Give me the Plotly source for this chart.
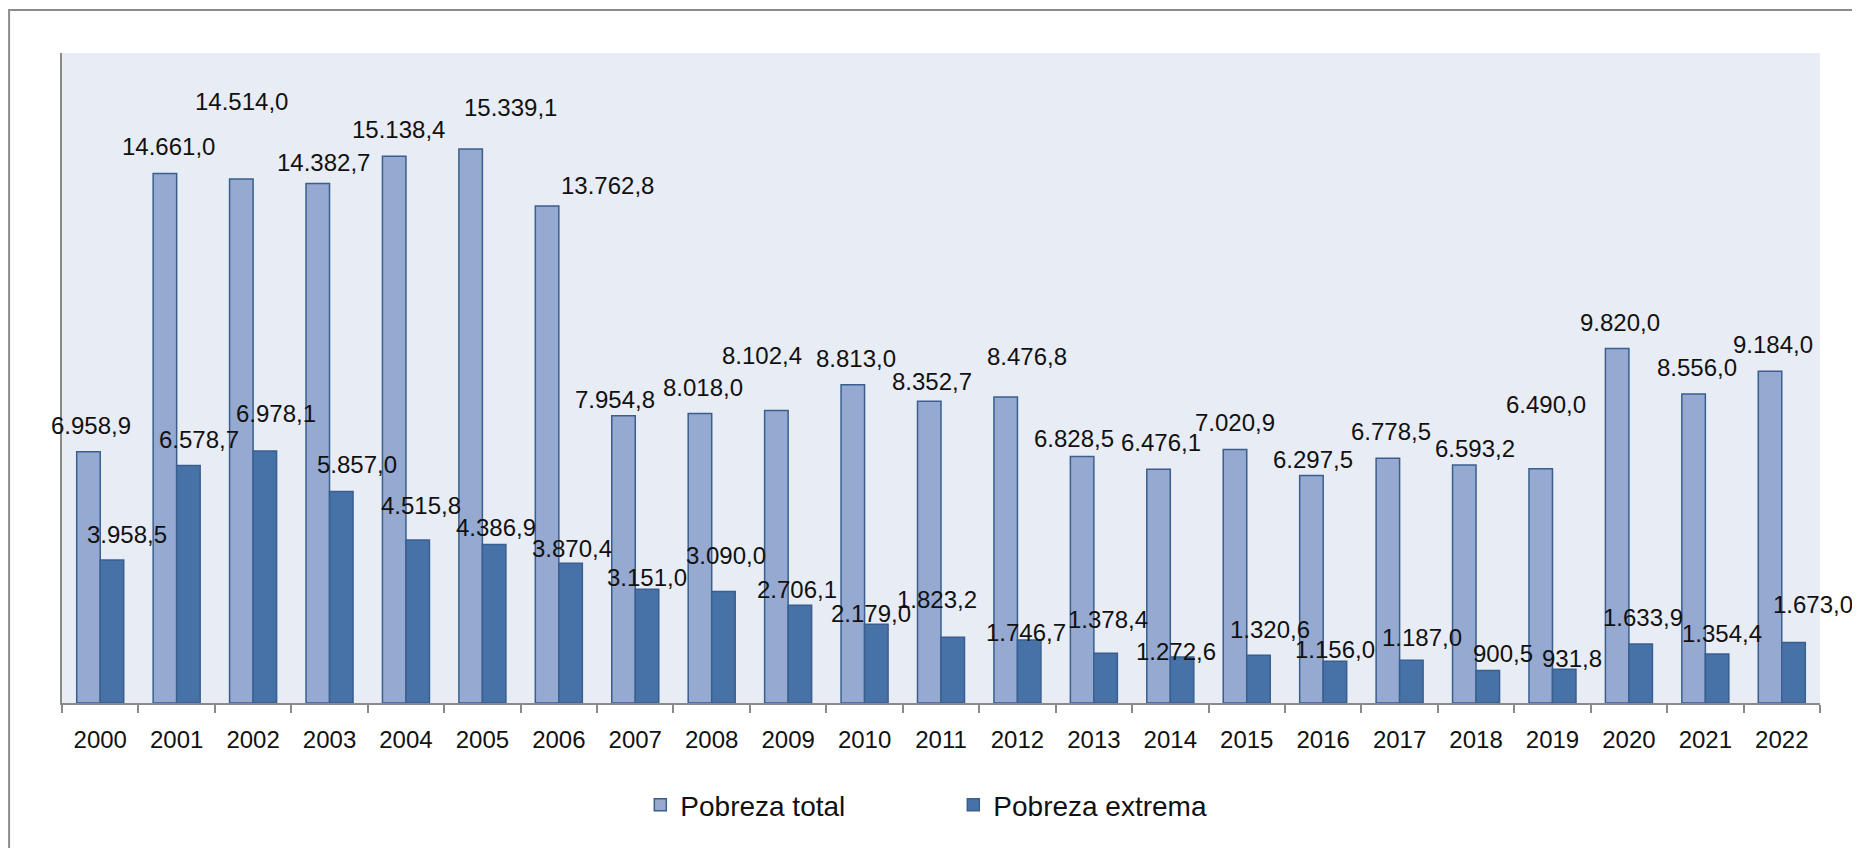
"""
Pobreza total y extrema, 2000-2022 — grouped bar chart with hand-placed value labels.
"""
import plotly.graph_objects as go

years = [str(y) for y in range(2000, 2023)]

pobreza_total = [
    6958.9, 14661.0, 14514.0, 14382.7, 15138.4, 15339.1, 13762.8, 7954.8,
    8018.0, 8102.4, 8813.0, 8352.7, 8476.8, 6828.5, 6476.1, 7020.9,
    6297.5, 6778.5, 6593.2, 6490.0, 9820.0, 8556.0, 9184.0,
]
pobreza_extrema = [
    3958.5, 6578.7, 6978.1, 5857.0, 4515.8, 4386.9, 3870.4, 3151.0,
    3090.0, 2706.1, 2179.0, 1823.2, 1746.7, 1378.4, 1272.6, 1320.6,
    1156.0, 1187.0, 900.5, 931.8, 1633.9, 1354.4, 1673.0,
]

# label nudges (px) — the source chart has its labels dragged around by hand
_TOTAL_LIFT  = [26, 27, 77, 21, 27, 42, 21, 16, 26, 55, 26, 20, 40, 18, 27, 27, 16, 27, 16, 64, 26, 27, 27]
_TOTAL_DX    = [3, 4, 0, 6, 4, 40, 60, -9, 3, -14, 3, 3, 21, -8, 2, 0, 2, 3, 11, 5, 3, 3, 3]
_EXTREMA_LIFT = [26, 26, 38, 27, 34, 17, 15, 12, 36, 16, 11, 38, 7, 34, 6, 26, 12, 23, 17, 11, 27, 21, 38]
_EXTREMA_DX   = [15, 11, 11, 16, 3, 2, 1, 0, 3, -3, -5, -16, -3, 2, -6, 12, 0, 11, 15, 8, 2, 5, 19]

_LIGHT   = "#95A9D1"
_DARK    = "#4672A8"
_EDGE    = "#3A5F8F"
_PLOT_BG = "#E8ECF4"
_AXIS    = "#8A8A8A"
_FONT    = "Liberation Sans, Arial, sans-serif"
_BAR_HALF = 11.75   # half of one bar's pixel width, to sit labels over each bar


def _fmt(v):
    # Spanish-style number: 14.661,0
    return f"{v:,.1f}".replace(",", "X").replace(".", ",").replace("X", ".")


def _bar(name, values, color):
    return go.Bar(
        name=name,
        x=years,
        y=values,
        marker=dict(color=color, line=dict(color=_EDGE, width=1.5)),
    )


fig = go.Figure([
    _bar("Pobreza total", pobreza_total, _LIGHT),
    _bar("Pobreza extrema", pobreza_extrema, _DARK),
])

for series, side, lifts, dxs in (
    (pobreza_total, -1, _TOTAL_LIFT, _TOTAL_DX),
    (pobreza_extrema, 1, _EXTREMA_LIFT, _EXTREMA_DX),
):
    # category axis: annotations take the category's serial index
    for i, (val, lift, dx) in enumerate(zip(series, lifts, dxs)):
        fig.add_annotation(
            x=i, y=val, xref="x", yref="y",
            text=_fmt(val), showarrow=False,
            xanchor="center", yanchor="middle",
            xshift=side * _BAR_HALF + dx, yshift=lift,
            font=dict(family=_FONT, size=24, color="#111111"),
        )

# outer chart frame (only top/left edges show in the source)
fig.add_shape(
    type="rect", xref="paper", yref="paper",
    x0=-0.0301, x1=1.04, y0=-0.4, y1=1.066,
    line=dict(color="#8C8C8C", width=2),
    fillcolor="rgba(0,0,0,0)", layer="below",
)

fig.update_layout(
    width=1844, height=840,
    margin=dict(l=54, r=32, t=45, b=145),
    barmode="group",
    bargap=0.385,
    bargroupgap=0,
    paper_bgcolor="white",
    plot_bgcolor=_PLOT_BG,
    showlegend=True,
    legend=dict(
        orientation="h",
        x=0.507, xanchor="center",
        y=-0.157, yanchor="middle",
        font=dict(family=_FONT, size=28, color="#111111"),
        entrywidth=268, entrywidthmode="pixels",
    ),
    xaxis=dict(
        type="category",
        range=[-0.5, len(years) - 0.5],
        showline=True, linecolor=_AXIS, linewidth=2,
        ticks="outside", tickson="boundaries", ticklen=8, tickcolor=_AXIS, tickwidth=2,
        ticklabelstandoff=14,
        tickfont=dict(family=_FONT, size=24, color="#111111"),
        showgrid=False,
    ),
    yaxis=dict(
        range=[0, 18000],
        showline=True, linecolor=_AXIS, linewidth=2,
        showticklabels=False, ticks="", showgrid=False, zeroline=False,
    ),
)

fig.write_html("out.html")
